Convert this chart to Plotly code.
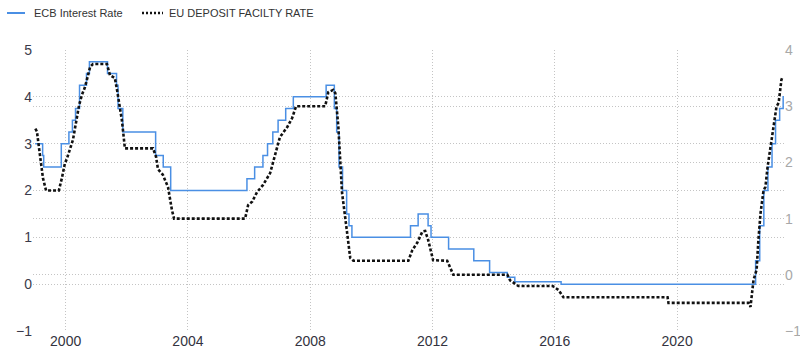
import plotly.graph_objects as go

# ECB main refinancing rate (left axis), step changes
ecb_dates = ["1999-01-01", "1999-04-01", "1999-04-14", "1999-11-10", "2000-02-09", "2000-03-22",
             "2000-04-28", "2000-06-15", "2000-09-06", "2000-10-11", "2001-05-15", "2001-08-31",
             "2001-09-18", "2001-11-14", "2002-12-11", "2003-03-12", "2003-06-09", "2005-12-06",
             "2006-03-08", "2006-06-15", "2006-08-09", "2006-10-11", "2006-12-13", "2007-03-14",
             "2007-06-13", "2008-07-09", "2008-10-15", "2008-11-12", "2008-12-10", "2009-01-21",
             "2009-03-11", "2009-04-08", "2009-05-13", "2011-04-13", "2011-07-13", "2011-11-09",
             "2011-12-14", "2012-07-11", "2013-05-08", "2013-11-13", "2014-06-11", "2014-09-10",
             "2016-03-16", "2022-07-27", "2022-09-14", "2022-11-02", "2022-12-21", "2023-02-08",
             "2023-03-22", "2023-05-10", "2023-06-21", "2023-06-30"]
ecb_rate = [3.0, 2.75, 2.5, 3.0, 3.25, 3.5,
            3.75, 4.25, 4.5, 4.75, 4.5, 4.25,
            3.75, 3.25, 2.75, 2.5, 2.0, 2.25,
            2.5, 2.75, 3.0, 3.25, 3.5, 3.75,
            4.0, 4.25, 3.75, 3.25, 2.5, 2.0,
            1.5, 1.25, 1.0, 1.25, 1.5, 1.25,
            1.0, 0.75, 0.5, 0.25, 0.15, 0.05,
            0.0, 0.5, 1.25, 2.0, 2.5, 3.0,
            3.5, 3.75, 4.0, 4.0]

# EU deposit facility rate (right axis)
dep_dates = ["1999-01-04", "1999-01-23", "1999-02-28", "1999-04-05", "1999-05-12", "1999-10-12",
             "1999-11-17", "1999-12-24", "2000-01-15", "2000-03-28", "2000-06-10", "2000-07-13",
             "2000-08-19", "2000-10-20", "2000-11-22", "2001-05-08", "2001-06-14", "2001-08-11",
             "2001-09-06", "2001-11-03", "2001-12-09", "2002-11-10", "2002-12-16", "2003-01-08",
             "2003-03-07", "2003-05-08", "2003-06-24", "2003-07-19", "2005-11-14", "2005-12-20",
             "2006-02-06", "2006-04-05", "2006-06-17", "2006-09-09", "2007-01-04", "2007-04-02",
             "2007-05-30", "2007-07-16", "2008-06-28", "2008-08-04", "2008-10-01", "2008-10-27",
             "2008-12-02", "2008-12-24", "2009-01-15", "2009-02-21", "2009-03-18", "2009-04-23",
             "2009-05-30", "2011-03-18", "2011-05-05", "2011-07-02", "2011-09-02", "2011-10-05",
             "2011-11-10", "2012-01-08", "2012-06-24", "2012-09-05", "2014-06-14", "2014-07-16",
             "2014-10-23", "2015-12-06", "2016-02-14", "2016-04-13", "2019-09-09", "2019-09-20",
             "2022-05-05", "2022-05-27", "2022-07-02", "2022-08-08", "2022-08-29", "2022-09-24",
             "2022-10-30", "2022-11-21", "2022-12-17", "2022-12-28", "2023-02-03", "2023-02-28",
             "2023-04-02", "2023-04-28", "2023-05-31", "2023-06-14"]
dep_rate = [2.6, 2.55, 2.13, 1.72, 1.5, 1.5,
            1.72, 1.99, 2.06, 2.4, 3.02, 3.2,
            3.34, 3.7, 3.75, 3.75, 3.55, 3.5,
            3.29, 2.75, 2.25, 2.25, 2.1, 1.88,
            1.78, 1.56, 1.15, 1.0, 1.0, 1.24,
            1.3, 1.47, 1.6, 1.81, 2.45, 2.63,
            2.79, 3.0, 3.0, 3.25, 3.29, 3.23,
            2.63, 2.04, 1.46, 1.03, 0.74, 0.3,
            0.25, 0.25, 0.44, 0.57, 0.77, 0.78,
            0.62, 0.26, 0.25, 0.0, 0.0, -0.1,
            -0.2, -0.2, -0.27, -0.4, -0.4, -0.5,
            -0.5, -0.57, -0.09, 0.09, 0.62, 1.1,
            1.51, 1.56, 1.92, 2.04, 2.35, 2.7,
            2.99, 3.06, 3.47, 3.52]

left_ticks = [-1, 0, 1, 2, 3, 4, 5]
right_ticks = [-1, 0, 1, 2, 3, 4]
legend_names = ["ECB Interest Rate", "EU DEPOSIT FACILTY RATE"]

BLUE = "#4a8fe4"
GRID = "#c4c4c4"
GDASH = "1px,2px"

fig = go.Figure()
fig.add_trace(go.Scatter(x=ecb_dates, y=ecb_rate, mode="lines", name=legend_names[0],
                         line=dict(color=BLUE, width=1.5, shape="hv"), yaxis="y"))
fig.add_trace(go.Scatter(x=dep_dates, y=dep_rate, mode="lines", name=legend_names[1],
                         line=dict(color="#111111", width=2.6, dash="3px,2px"), yaxis="y2"))

W, H = 800, 357
L, R, T, B = 33, 16, 50, 26
pw, ph = W - L - R, H - T - B

def px(x):
    return (x - L) / pw

def py(y):
    return (H - B - y) / ph

shapes = [
    dict(type="line", xref="paper", yref="paper", x0=px(7), x1=px(25), y0=py(13), y1=py(13),
         line=dict(color=BLUE, width=2)),
    dict(type="line", xref="paper", yref="paper", x0=px(142), x1=px(163), y0=py(13), y1=py(13),
         line=dict(color="#111111", width=2.5, dash="2px,2px")),
]
annotations = [
    dict(text=legend_names[0], xref="paper", yref="paper", x=px(32), y=py(13),
         xanchor="left", yanchor="middle", showarrow=False,
         font=dict(family="Liberation Sans, Arial, sans-serif", size=11, color="#333333")),
    dict(text=legend_names[1], xref="paper", yref="paper", x=px(167), y=py(13),
         xanchor="left", yanchor="middle", showarrow=False,
         font=dict(family="Liberation Sans, Arial, sans-serif", size=11, color="#333333")),
]

fig.update_layout(
    width=W, height=H,
    margin=dict(l=L, r=R, t=T, b=B, pad=0, autoexpand=False),
    paper_bgcolor="white", plot_bgcolor="white",
    showlegend=False,
    shapes=shapes, annotations=annotations,
    xaxis=dict(type="date", range=["1998-12-07", "2023-07-01"], automargin=False,
               tick0="2000-01-01", dtick="M48", tickformat="%Y",
               showgrid=True, gridcolor=GRID, griddash=GDASH, gridwidth=1,
               zeroline=False, showline=False, ticks="",
               tickfont=dict(family="Liberation Sans, Arial, sans-serif",
                             size=14, color="#333340")),
    yaxis=dict(range=[-1, 5], tickvals=left_ticks, showgrid=True, gridcolor=GRID,
               griddash=GDASH, zeroline=False, showline=False, ticks="", automargin=False,
               tickfont=dict(family="Liberation Sans, Arial, sans-serif", size=14, color="#3a3a4a")),
    yaxis2=dict(range=[-1, 4], tickvals=right_ticks, overlaying="y", side="right",
                showgrid=True, gridcolor=GRID, griddash=GDASH, zeroline=False,
                showline=False, ticks="", automargin=False,
                tickfont=dict(family="Liberation Sans, Arial, sans-serif", size=14, color="#a8a8a8")),
)

fig.write_html("out.html", config={"displayModeBar": False},
               post_script="document.body.style.margin='0';document.body.style.padding='0';")
